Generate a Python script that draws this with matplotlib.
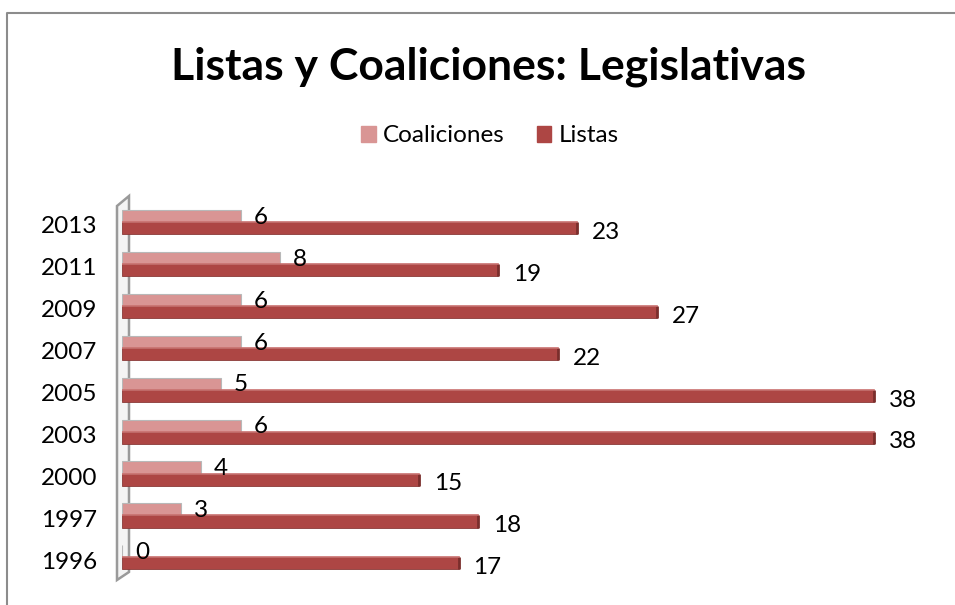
import matplotlib
matplotlib.use("Agg")
import matplotlib.pyplot as plt
from matplotlib.lines import Line2D
from matplotlib.patches import Polygon
import numpy as np

years = ["1996", "1997", "2000", "2003", "2005", "2007", "2009", "2011", "2013"]
coaliciones = [0, 3, 4, 6, 5, 6, 6, 8, 6]
listas = [17, 18, 15, 38, 38, 22, 27, 19, 23]
series_names = ["Coaliciones", "Listas"]
title = "Listas y Coaliciones: Legislativas"

c_col = "#D99594"
l_col = "#AD4644"

plt.rcParams['font.family'] = ['Lato', 'DejaVu Sans']

W, H = 955, 605
fig = plt.figure(figsize=(W / 100, H / 100), dpi=100)

def fx(px):
    return px / W

def fy(py):
    return 1 - py / H

# chart frame (left and top only)
fig.add_artist(Line2D([fx(7), fx(7), fx(955)], [fy(605), fy(13), fy(13)],
                      color="#8c8c8c", lw=1.5, transform=fig.transFigure))

# 3D-like wall on the left
wall = Polygon([(fx(117), fy(206)), (fx(129), fy(196)), (fx(129), fy(572)), (fx(117), fy(580))],
               closed=True, facecolor="#f4f4f4", edgecolor="#9a9a9a", lw=1.8,
               transform=fig.transFigure, zorder=-1)
fig.add_artist(wall)

x0_px, x1_px = 122, 914
y_top_px, y_bot_px = 204, 581
ax = fig.add_axes([fx(x0_px), fy(y_bot_px), fx(x1_px) - fx(x0_px), fy(y_top_px) - fy(y_bot_px)])
ax.patch.set_visible(False)
ax.set_xlim(0, 40)
ax.set_ylim(-0.5, len(years) - 0.5)
for s in ax.spines.values():
    s.set_visible(False)
ax.set_xticks([])
y = np.arange(len(years))
ax.set_yticks(y)
ax.set_yticklabels(years, fontsize=17.5)
ax.tick_params(axis='y', length=0, pad=18)

h = 0.29
off_c = 0.21
off_l = -0.08
ax.barh(y + off_c, coaliciones, height=h, color=c_col, edgecolor="#b8b8b8", lw=0.8,
        label=series_names[0], zorder=3)
ax.barh(y + off_l, listas, height=h, color=l_col, edgecolor="#8a3a38", lw=0.6,
        label=series_names[1], zorder=3)
# darker end caps for a 3D hint
for yi, v in zip(y, listas):
    ax.plot([v, v], [yi + off_l - h / 2, yi + off_l + h / 2], color="#7a2e2c", lw=2, zorder=4,
            solid_capstyle='butt')
# top face highlights
for yi, v in zip(y, listas):
    ax.plot([0, v], [yi + off_l + h / 2, yi + off_l + h / 2], color="#c9716f", lw=1.2, zorder=4)

for yi, v in zip(y, coaliciones):
    ax.text(v + 0.65, yi + off_c - 0.03, str(v), fontsize=17.5, va='center', ha='left', zorder=5)
for yi, v in zip(y, listas):
    ax.text(v + 0.75, yi + off_l - 0.1, str(v), fontsize=17.5, va='center', ha='left', zorder=5)

fig.text(fx(488), fy(67), title, fontsize=32, fontweight='bold', ha='center', va='center')

handles = [plt.Rectangle((0, 0), 1, 1, color=c_col), plt.Rectangle((0, 0), 1, 1, color=l_col)]
fig.legend(handles, series_names, loc='center', bbox_to_anchor=(fx(490), fy(136)), ncol=2,
           frameon=False, fontsize=17.5, handlelength=0.6, handleheight=0.6,
           handletextpad=0.3, columnspacing=1.3)

fig.savefig("out.png", dpi=100)
